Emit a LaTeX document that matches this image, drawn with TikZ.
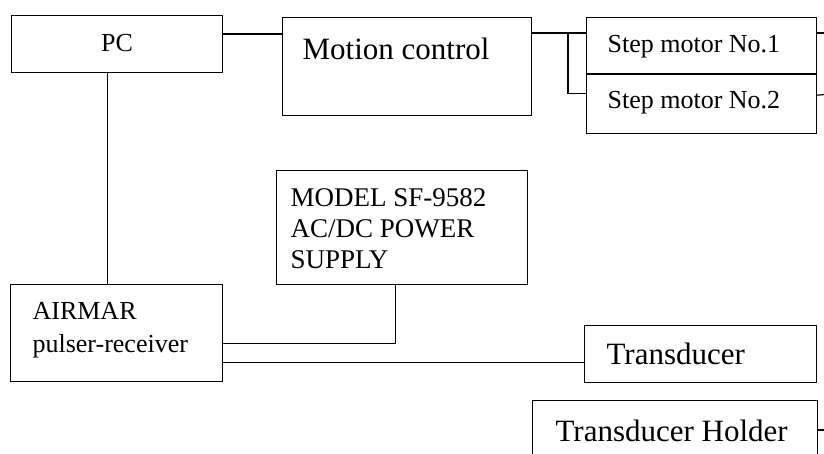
\documentclass[tikz,border=0pt]{standalone}
\usepackage{fontspec}
\setmainfont{Liberation Serif}
\usepackage{tikz}
\usetikzlibrary{positioning}
\tikzset{
  box/.style    = {rectangle, draw=black, line width=1.2pt, inner ysep=0pt,
                   align=flush left, anchor=north west,
                   font=\fontsize{26}{33}\selectfont},
  bigbox/.style = {box, font=\fontsize{31}{36}\selectfont},
  wire/.style   = {draw=black, line width=1.2pt},
}
\begin{document}
\begin{tikzpicture}[x=1pt, y=-1pt]
  \useasboundingbox (0,0) rectangle (824,454);

  % Top row
  \node[box, align=flush center, inner xsep=0pt, text width=211pt,
        text height=36pt, text depth=21pt] (pc) at (11,15) {PC};
  \node[bigbox, inner xsep=20pt, text width=209pt,
        text height=42pt, text depth=56pt] (motion) at (282,17) {Motion control};
  \node[box, inner xsep=21pt, text width=188pt,
        text height=35pt, text depth=21pt] (step1) at (586,17) {Step motor No.1};
  \node[box, inner xsep=21pt, text width=188pt, anchor=north,
        text height=34pt, text depth=25pt, below=0pt of step1] (step2) {Step motor No.2};

  % Middle / bottom
  \node[box, inner xsep=14pt, text width=223pt, font=\fontsize{27}{31}\selectfont,
        text height=36pt, text depth=78pt] (power) at (276,170)
        {MODEL SF-9582\\AC/DC POWER\\SUPPLY};
  \node[box, inner xsep=22pt, text width=168pt,
        text height=35pt, text depth=62pt] (airmar) at (10,284)
        {AIRMAR\\pulser-receiver};
  \node[bigbox, inner xsep=22pt, text width=188pt,
        text height=39pt, text depth=18pt] (trans) at (584,325) {Transducer};
  \node[bigbox, inner xsep=23pt, text width=239pt,
        text height=41pt, text depth=40pt] (holder) at (532,400) {Transducer Holder};

  % Off-page ends
  \coordinate (edge1)  at (830,33);
  \coordinate (edge2)  at (830,94);
  \coordinate (edge3)  at (830,430);
  \coordinate (split)  at ([xshift=-18pt, yshift=-16pt]step1.north west);

  % PC -> Motion control -> Step motors
  \draw[wire] ([yshift=-19pt]pc.north east) -- ([yshift=-19pt]pc.north east -| motion.west);
  \draw[wire] ([yshift=-16pt]motion.north east) -- ([yshift=-16pt]motion.north east -| step1.west);
  \draw[wire] (split) |- ([yshift=-19pt]step2.north west);
  \draw[wire] ([yshift=-16pt]step1.north east) -- (edge1);
  \draw[wire] ([yshift=-21pt]step2.north east) -- (edge2);

  % PC -> AIRMAR
  \draw[wire] ([xshift=-10pt]pc.south) -- ([xshift=-10pt]pc.south |- airmar.north);

  % Power supply -> AIRMAR
  \draw[wire] ([xshift=-7pt]power.south) |- ([yshift=-10.5pt]airmar.east);

  % AIRMAR -> Transducer
  \draw[wire] ([yshift=-29.5pt]airmar.east) -- ([yshift=-29.5pt]airmar.east -| trans.west);

  % Holder
  \draw[wire] ([yshift=-30pt]holder.north east) -- (edge3);

\end{tikzpicture}
\end{document}
